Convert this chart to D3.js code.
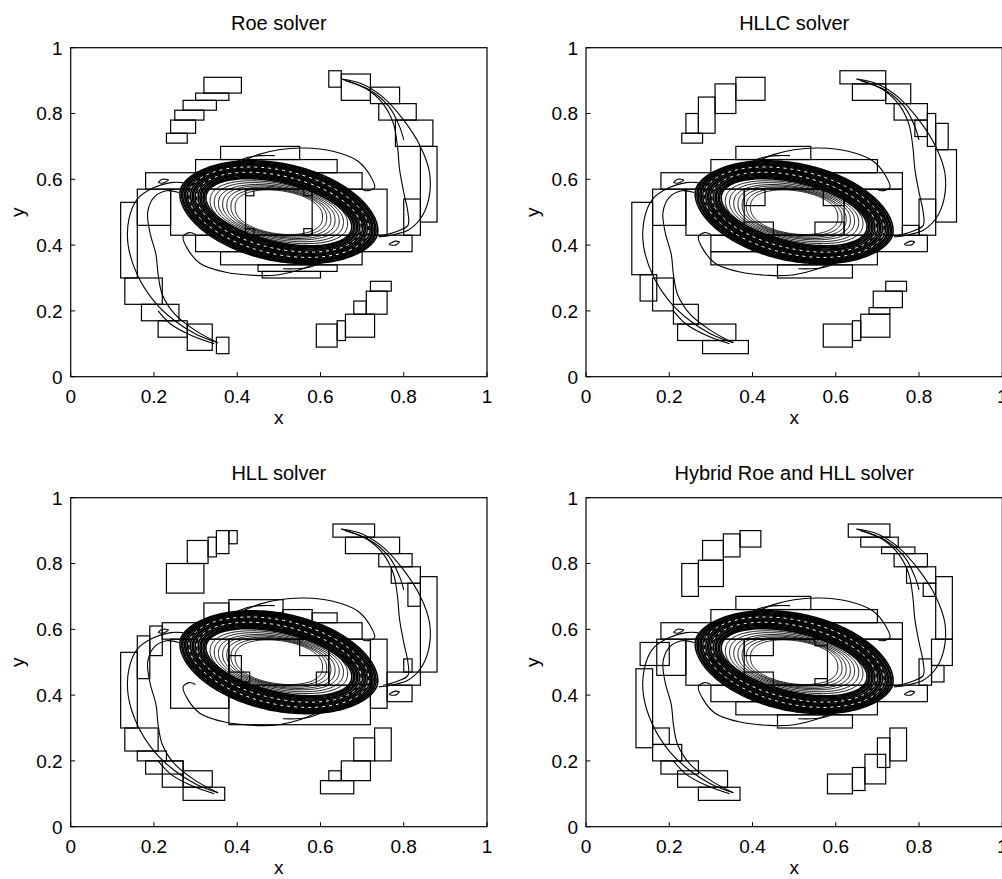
<!DOCTYPE html>
<html>
<head>
<meta charset="utf-8">
<script src="https://cdn.jsdelivr.net/npm/d3@7"></script>
<style>
  html, body { margin: 0; padding: 0; background: #fff; }
  svg { display: block; }
  text { font-family: "Liberation Sans", Arial, Helvetica, sans-serif; fill: #000; }
</style>
</head>
<body>
<svg id="chart" width="1002" height="879"></svg>
<script>
// ---------------- DATA ----------------
const panelTitles = ["Roe solver", "HLLC solver", "HLL solver", "Hybrid Roe and HLL solver"];
const tickValues = [0, 0.2, 0.4, 0.6, 0.8, 1];
const tickLabels = ["0", "0.2", "0.4", "0.6", "0.8", "1"];
const xLabel = "x";
const yLabel = "y";

// refinement patches: [x0, x1, y0, y1]
const roeRects = [
  [0.32,0.41,0.862,0.91],[0.30,0.38,0.84,0.862],[0.27,0.35,0.81,0.84],[0.25,0.32,0.78,0.81],[0.24,0.30,0.74,0.78],[0.23,0.28,0.71,0.74],
  [0.62,0.65,0.88,0.93],[0.65,0.72,0.84,0.92],[0.72,0.79,0.83,0.88],[0.74,0.83,0.78,0.83],[0.78,0.87,0.70,0.78],[0.84,0.88,0.47,0.70],[0.80,0.84,0.43,0.54],
  [0.36,0.55,0.66,0.70],[0.30,0.64,0.62,0.66],[0.18,0.70,0.57,0.62],[0.24,0.76,0.43,0.57],[0.16,0.24,0.46,0.57],[0.12,0.16,0.30,0.53],
  [0.30,0.82,0.38,0.43],[0.36,0.70,0.34,0.38],[0.45,0.64,0.32,0.34],[0.46,0.60,0.30,0.32],
  [0.42,0.58,0.43,0.57],[0.42,0.44,0.55,0.57],[0.56,0.58,0.55,0.57],[0.42,0.44,0.43,0.45],[0.56,0.58,0.43,0.45],
  [0.13,0.22,0.22,0.30],[0.17,0.26,0.17,0.22],[0.21,0.28,0.12,0.17],[0.28,0.34,0.08,0.16],[0.35,0.38,0.07,0.12],
  [0.59,0.64,0.09,0.16],[0.64,0.66,0.11,0.17],[0.66,0.73,0.12,0.19],[0.68,0.71,0.19,0.23],[0.71,0.76,0.19,0.26],[0.72,0.77,0.26,0.29]
];
const hllcRects = [
  [0.36,0.43,0.84,0.91],[0.31,0.36,0.80,0.89],[0.27,0.31,0.74,0.85],[0.24,0.27,0.74,0.80],[0.23,0.28,0.71,0.74],
  [0.61,0.72,0.89,0.93],[0.64,0.72,0.84,0.89],[0.72,0.78,0.83,0.89],[0.74,0.82,0.78,0.83],[0.79,0.82,0.73,0.78],[0.82,0.84,0.70,0.80],[0.84,0.87,0.69,0.77],[0.84,0.89,0.47,0.69],[0.80,0.84,0.43,0.54],
  [0.36,0.54,0.66,0.70],[0.30,0.70,0.62,0.66],[0.18,0.76,0.57,0.62],[0.24,0.76,0.43,0.57],[0.11,0.16,0.31,0.53],[0.16,0.24,0.46,0.57],[0.76,0.80,0.43,0.46],
  [0.30,0.82,0.38,0.43],[0.30,0.70,0.34,0.38],[0.46,0.64,0.30,0.34],
  [0.38,0.62,0.43,0.57],[0.38,0.43,0.52,0.57],[0.57,0.62,0.52,0.57],[0.38,0.45,0.43,0.47],[0.55,0.62,0.43,0.47],
  [0.13,0.17,0.23,0.31],[0.16,0.21,0.20,0.30],[0.21,0.27,0.16,0.22],[0.22,0.36,0.11,0.16],[0.28,0.39,0.07,0.11],
  [0.57,0.64,0.09,0.16],[0.64,0.66,0.11,0.17],[0.66,0.73,0.12,0.19],[0.68,0.73,0.19,0.21],[0.69,0.76,0.21,0.26],[0.72,0.77,0.26,0.29]
];
const hllRects = [
  [0.23,0.32,0.71,0.80],[0.28,0.33,0.80,0.87],[0.33,0.35,0.82,0.88],[0.35,0.38,0.83,0.90],[0.38,0.40,0.86,0.90],
  [0.63,0.73,0.88,0.92],[0.66,0.79,0.83,0.88],[0.74,0.82,0.79,0.83],[0.77,0.84,0.74,0.79],[0.81,0.84,0.67,0.74],[0.84,0.88,0.47,0.76],[0.76,0.84,0.43,0.47],[0.76,0.82,0.38,0.43],[0.80,0.82,0.47,0.51],
  [0.32,0.38,0.62,0.68],[0.38,0.51,0.65,0.69],[0.51,0.58,0.62,0.66],[0.58,0.64,0.62,0.65],[0.22,0.70,0.57,0.62],[0.24,0.38,0.36,0.57],[0.38,0.62,0.43,0.57],[0.38,0.72,0.31,0.43],[0.62,0.72,0.43,0.57],[0.72,0.76,0.36,0.57],
  [0.38,0.41,0.47,0.52],[0.41,0.43,0.44,0.47],[0.55,0.62,0.52,0.57],[0.59,0.62,0.43,0.47],
  [0.12,0.16,0.30,0.53],[0.16,0.19,0.45,0.58],[0.19,0.22,0.52,0.61],
  [0.13,0.21,0.23,0.30],[0.16,0.23,0.20,0.23],[0.18,0.27,0.16,0.20],[0.22,0.27,0.12,0.20],[0.27,0.34,0.12,0.17],[0.27,0.37,0.08,0.12],
  [0.60,0.68,0.10,0.14],[0.62,0.65,0.14,0.17],[0.65,0.72,0.14,0.20],[0.68,0.73,0.20,0.27],[0.73,0.77,0.20,0.30]
];
const hybridRects = [
  [0.37,0.42,0.85,0.90],[0.33,0.37,0.82,0.89],[0.28,0.33,0.81,0.87],[0.27,0.33,0.73,0.81],[0.23,0.27,0.70,0.80],
  [0.63,0.73,0.88,0.92],[0.66,0.75,0.85,0.88],[0.71,0.79,0.83,0.85],[0.74,0.82,0.79,0.83],[0.77,0.84,0.74,0.79],[0.81,0.84,0.70,0.74],[0.84,0.88,0.57,0.76],[0.83,0.88,0.49,0.57],[0.80,0.83,0.43,0.51],[0.83,0.86,0.44,0.49],
  [0.36,0.54,0.66,0.70],[0.30,0.70,0.62,0.66],[0.18,0.76,0.57,0.62],[0.24,0.76,0.43,0.57],[0.13,0.20,0.49,0.56],[0.12,0.16,0.24,0.48],[0.17,0.24,0.46,0.57],
  [0.30,0.82,0.38,0.43],[0.36,0.70,0.34,0.38],[0.46,0.64,0.30,0.34],
  [0.38,0.58,0.43,0.57],[0.38,0.45,0.52,0.57],[0.38,0.45,0.43,0.47],[0.55,0.58,0.55,0.57],[0.55,0.58,0.43,0.45],
  [0.16,0.20,0.25,0.30],[0.16,0.23,0.20,0.25],[0.18,0.27,0.16,0.20],[0.22,0.34,0.12,0.17],[0.27,0.37,0.08,0.12],
  [0.58,0.64,0.10,0.16],[0.64,0.67,0.11,0.18],[0.67,0.72,0.13,0.22],[0.70,0.73,0.18,0.27],[0.73,0.77,0.20,0.30]
];
const panelRects = [roeRects, hllcRects, hllRects, hybridRects];

// vortex contour rings around (0.5, 0.5): [ux, uy, vx, vy, tip sharpness]
const vortexCenter = [0.5, 0.5];
const denseRings = [
  [0.236,-0.071,0.036,0.141,1.12],[0.232,-0.070,0.034,0.138,1.11],[0.229,-0.068,0.033,0.135,1.10],
  [0.225,-0.067,0.031,0.132,1.09],[0.222,-0.066,0.030,0.129,1.08],[0.218,-0.064,0.028,0.126,1.07],
  [0.215,-0.063,0.026,0.123,1.06],[0.211,-0.062,0.025,0.120,1.05],[0.207,-0.060,0.023,0.117,1.04],
  [0.204,-0.059,0.021,0.114,1.03],[0.200,-0.057,0.020,0.111,1.02],[0.197,-0.056,0.018,0.108,1.01],
  [0.193,-0.055,0.016,0.105,1.0],[0.189,-0.053,0.015,0.102,1.0],[0.186,-0.052,0.013,0.099,1.0],
  [0.182,-0.050,0.011,0.096,1.0],[0.179,-0.049,0.010,0.093,1.0],[0.175,-0.048,0.008,0.090,1.0]
];
const dashedRings = [[0.215,-0.063,0.026,0.123,1.06],[0.197,-0.056,0.018,0.108,1.01]];
const thinRings = [
  [0.165,-0.040,0.008,0.086,0.92],[0.155,-0.035,0.006,0.082,0.9],[0.145,-0.030,0.004,0.078,0.9],
  [0.135,-0.026,0.002,0.075,0.88],[0.125,-0.022,0.000,0.072,0.88],[0.115,-0.018,0.000,0.069,0.86],[0.105,-0.015,0.000,0.066,0.86]
];

// spiral arms and filaments: [x, y] control points
const armCurves = [
  [[0.65,0.905],[0.70,0.89],[0.75,0.85],[0.80,0.78],[0.84,0.70],[0.862,0.62],[0.86,0.54],[0.84,0.48],[0.81,0.445],[0.77,0.43],[0.74,0.425]],
  [[0.65,0.905],[0.71,0.875],[0.75,0.83],[0.775,0.77],[0.785,0.70],[0.79,0.63],[0.80,0.56],[0.81,0.50],[0.81,0.46],[0.78,0.44],[0.75,0.43]],
  [[0.66,0.90],[0.72,0.87],[0.765,0.82],[0.79,0.76],[0.80,0.72]],
  [[0.354,0.103],[0.30,0.13],[0.25,0.17],[0.20,0.23],[0.16,0.31],[0.138,0.40],[0.14,0.48],[0.16,0.54],[0.20,0.575],[0.24,0.59],[0.27,0.59]],
  [[0.354,0.103],[0.30,0.14],[0.25,0.19],[0.22,0.25],[0.21,0.31],[0.205,0.37],[0.19,0.44],[0.185,0.50],[0.20,0.545],[0.23,0.565],[0.26,0.56]],
  [[0.345,0.10],[0.29,0.125],[0.24,0.16],[0.21,0.20]],
  [[0.40,0.648],[0.45,0.675],[0.50,0.69],[0.56,0.695],[0.63,0.685],[0.69,0.655],[0.72,0.61],[0.73,0.575],[0.71,0.565],[0.70,0.57]],
  [[0.60,0.352],[0.55,0.325],[0.50,0.31],[0.44,0.308],[0.37,0.318],[0.31,0.345],[0.28,0.39],[0.27,0.425],[0.285,0.438],[0.30,0.432]],
  [[0.21,0.59],[0.22,0.60],[0.235,0.598],[0.22,0.588],[0.21,0.59]],
  [[0.79,0.41],[0.78,0.40],[0.765,0.402],[0.78,0.412],[0.79,0.41]],
  [[0.40,0.655],[0.43,0.668],[0.46,0.672],[0.49,0.672]],
  [[0.60,0.345],[0.57,0.332],[0.54,0.328],[0.51,0.328]]
];

// ---------------- LAYOUT ----------------
const W = 416.3, H = 329;
const panelOrigins = [[70.7,47.7],[586,47.7],[70.7,497.7],[586,497.7]];

const svg = d3.select("#chart");
const x = d3.scaleLinear().domain([0,1]).range([0,W]);
const y = d3.scaleLinear().domain([0,1]).range([H,0]);

function ringPoints(r) {
  const [ux, uy, vx, vy, k] = r;
  const pts = [];
  const n = 180;
  for (let i = 0; i < n; i++) {
    const t = (i / n) * 2 * Math.PI;
    const c = Math.cos(t), s = Math.sin(t);
    const f = Math.sign(s) * Math.pow(Math.abs(s), k);
    pts.push([vortexCenter[0] + ux * c + vx * f, vortexCenter[1] + uy * c + vy * f]);
  }
  return pts;
}
const closedLine = d3.line().x(d => x(d[0])).y(d => y(d[1])).curve(d3.curveLinearClosed);
const armLine = d3.line().x(d => x(d[0])).y(d => y(d[1])).curve(d3.curveCatmullRom.alpha(0.5));

panelTitles.forEach((title, i) => {
  const [ox, oy] = panelOrigins[i];
  const g = svg.append("g").attr("transform", `translate(${ox},${oy})`);

  // patches
  g.append("g").selectAll("rect").data(panelRects[i]).join("rect")
    .attr("x", d => x(d[0])).attr("y", d => y(d[3]))
    .attr("width", d => x(d[1]) - x(d[0])).attr("height", d => y(d[2]) - y(d[3]))
    .attr("fill", "none").attr("stroke", "#000").attr("stroke-width", 1.2);

  // contours
  const cg = g.append("g").attr("fill", "none").attr("stroke", "#000");
  cg.selectAll("path.dense").data(denseRings).join("path").attr("class","dense")
    .attr("d", d => closedLine(ringPoints(d))).attr("stroke-width", 1.6);
  cg.selectAll("path.dash").data(dashedRings).join("path").attr("class","dash")
    .attr("d", d => closedLine(ringPoints(d))).attr("stroke", "#fff").attr("stroke-width", 1)
    .attr("stroke-dasharray", "3,4");
  cg.selectAll("path.thin").data(thinRings).join("path").attr("class","thin")
    .attr("d", d => closedLine(ringPoints(d))).attr("stroke-width", 0.9);
  cg.selectAll("path.arm").data(armCurves).join("path").attr("class","arm")
    .attr("d", d => armLine(d)).attr("stroke-width", 1.1);

  // box
  g.append("rect").attr("x",0).attr("y",0).attr("width",W).attr("height",H)
    .attr("fill","none").attr("stroke","#000").attr("stroke-width",1.2);

  // ticks (inward)
  g.append("g").selectAll("line").data(tickValues).join("line")
    .attr("x1", d => x(d)).attr("x2", d => x(d)).attr("y1", H).attr("y2", H - 4.5)
    .attr("stroke","#000").attr("stroke-width",1);
  g.append("g").selectAll("line").data(tickValues).join("line")
    .attr("x1", 0).attr("x2", 4.5).attr("y1", d => y(d)).attr("y2", d => y(d))
    .attr("stroke","#000").attr("stroke-width",1);

  // tick labels
  g.append("g").selectAll("text").data(tickValues).join("text")
    .attr("x", d => x(d)).attr("y", H + 26).attr("text-anchor","middle")
    .style("font-size","19px").text((d,j) => tickLabels[j]);
  g.append("g").selectAll("text").data(tickValues).join("text")
    .attr("x", -8).attr("y", d => y(d)).attr("dy","0.36em").attr("text-anchor","end")
    .style("font-size","19px").text((d,j) => tickLabels[j]);

  // title and axis labels
  g.append("text").attr("x", W/2).attr("y", -17.5).attr("text-anchor","middle")
    .style("font-size","20px").text(title);
  g.append("text").attr("x", W/2).attr("y", H + 47).attr("text-anchor","middle")
    .style("font-size","19px").text(xLabel);
  g.append("text").attr("transform", `translate(-47,${H/2}) rotate(-90)`).attr("text-anchor","middle")
    .style("font-size","19px").text(yLabel);
});
</script>
</body>
</html>
